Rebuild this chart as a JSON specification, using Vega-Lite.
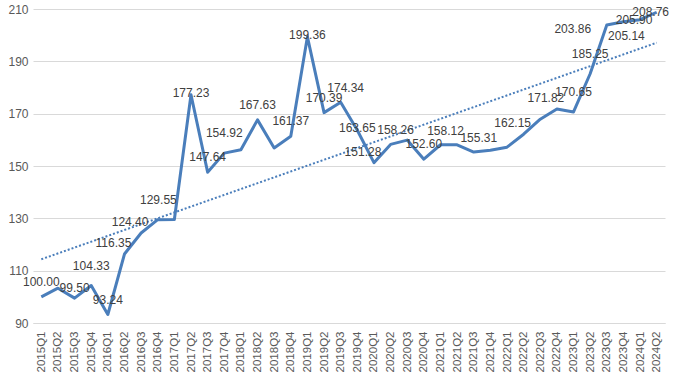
{
  "$schema": "https://vega.github.io/schema/vega-lite/v6.json",
  "width": 632,
  "height": 314,
  "autosize": "none",
  "padding": {"left": 33, "top": 9, "right": 11, "bottom": 63},
  "background": "white",
  "config": {"view": {"stroke": null}, "font": "Liberation Sans", "text": {"fontSize": 12, "color": "#404040"}},
  "datasets": {
    "d": [
      {"i": 0, "q": "2015Q1", "v": 100.00},
      {"i": 1, "q": "2015Q2", "v": 103.3},
      {"i": 2, "q": "2015Q3", "v": 99.50},
      {"i": 3, "q": "2015Q4", "v": 104.33},
      {"i": 4, "q": "2016Q1", "v": 93.24},
      {"i": 5, "q": "2016Q2", "v": 116.35},
      {"i": 6, "q": "2016Q3", "v": 124.40},
      {"i": 7, "q": "2016Q4", "v": 129.5},
      {"i": 8, "q": "2017Q1", "v": 129.55},
      {"i": 9, "q": "2017Q2", "v": 177.23},
      {"i": 10, "q": "2017Q3", "v": 147.64},
      {"i": 11, "q": "2017Q4", "v": 154.92},
      {"i": 12, "q": "2018Q1", "v": 156.2},
      {"i": 13, "q": "2018Q2", "v": 167.63},
      {"i": 14, "q": "2018Q3", "v": 156.9},
      {"i": 15, "q": "2018Q4", "v": 161.37},
      {"i": 16, "q": "2019Q1", "v": 199.36},
      {"i": 17, "q": "2019Q2", "v": 170.39},
      {"i": 18, "q": "2019Q3", "v": 174.34},
      {"i": 19, "q": "2019Q4", "v": 163.65},
      {"i": 20, "q": "2020Q1", "v": 151.28},
      {"i": 21, "q": "2020Q2", "v": 158.26},
      {"i": 22, "q": "2020Q3", "v": 159.9},
      {"i": 23, "q": "2020Q4", "v": 152.60},
      {"i": 24, "q": "2021Q1", "v": 158.12},
      {"i": 25, "q": "2021Q2", "v": 158.1},
      {"i": 26, "q": "2021Q3", "v": 155.31},
      {"i": 27, "q": "2021Q4", "v": 156.0},
      {"i": 28, "q": "2022Q1", "v": 157.2},
      {"i": 29, "q": "2022Q2", "v": 162.15},
      {"i": 30, "q": "2022Q3", "v": 167.9},
      {"i": 31, "q": "2022Q4", "v": 171.82},
      {"i": 32, "q": "2023Q1", "v": 170.65},
      {"i": 33, "q": "2023Q2", "v": 185.25},
      {"i": 34, "q": "2023Q3", "v": 203.86},
      {"i": 35, "q": "2023Q4", "v": 205.14},
      {"i": 36, "q": "2024Q1", "v": 205.90},
      {"i": 37, "q": "2024Q2", "v": 208.76}
    ]
  },
  "data": {"name": "d"},
  "encoding": {
    "x": {
      "field": "q",
      "type": "ordinal",
      "scale": {"type": "point", "padding": 0.5},
      "axis": {
        "title": null,
        "labelAngle": -90,
        "labelFontSize": 11.5,
        "labelColor": "#595959",
        "ticks": false,
        "domain": true,
        "domainColor": "#d9d9d9",
        "labelPadding": 8,
        "grid": false
      }
    },
    "y": {
      "field": "v",
      "type": "quantitative",
      "scale": {"domain": [90, 210], "nice": false, "zero": false},
      "axis": {
        "title": null,
        "values": [90, 110, 130, 150, 170, 190, 210],
        "grid": true,
        "gridColor": "#d9d9d9",
        "domain": false,
        "ticks": false,
        "labelPadding": 5,
        "labelFontSize": 12,
        "labelColor": "#595959"
      }
    }
  },
  "layer": [
    {
      "mark": {"type": "line", "color": "#4a7ebb", "strokeWidth": 3, "strokeJoin": "round"},
      "encoding": {}
    },
    {
      "transform": [
        {"regression": "v", "on": "i"},
        {"lookup": "i", "from": {"data": {"name": "d"}, "key": "i", "fields": ["q"]}}
      ],
      "mark": {"type": "line", "color": "#4a7ebb", "strokeWidth": 2, "strokeDash": [2, 2]},
      "encoding": {}
    },
    {
      "transform": [{"filter": {"field": "q", "oneOf": ["2015Q1", "2016Q1", "2017Q3", "2018Q2", "2018Q4", "2019Q2", "2020Q4"]}}],
      "mark": {"type": "text", "dy": -15},
      "encoding": {"text": {"field": "v", "type": "quantitative", "format": ".2f"}}
    },
    {
      "transform": [{"filter": {"field": "q", "oneOf": ["2015Q3"]}}],
      "mark": {"type": "text", "dy": -10},
      "encoding": {"text": {"field": "v", "type": "quantitative", "format": ".2f"}}
    },
    {
      "transform": [{"filter": {"field": "q", "oneOf": ["2015Q4", "2017Q4", "2023Q1", "2023Q2"]}}],
      "mark": {"type": "text", "dy": -20},
      "encoding": {"text": {"field": "v", "type": "quantitative", "format": ".2f"}}
    },
    {
      "transform": [{"filter": {"field": "q", "oneOf": ["2016Q2", "2016Q3", "2020Q1", "2022Q2", "2022Q4"]}}],
      "mark": {"type": "text", "dx": -11, "dy": -11},
      "encoding": {"text": {"field": "v", "type": "quantitative", "format": ".2f"}}
    },
    {
      "transform": [{"filter": {"field": "q", "oneOf": ["2017Q1"]}}],
      "mark": {"type": "text", "dx": -16, "dy": -20},
      "encoding": {"text": {"field": "v", "type": "quantitative", "format": ".2f"}}
    },
    {
      "transform": [{"filter": {"field": "q", "oneOf": ["2019Q3", "2020Q2", "2021Q1", "2021Q3"]}}],
      "mark": {"type": "text", "dx": 5, "dy": -14},
      "encoding": {"text": {"field": "v", "type": "quantitative", "format": ".2f"}}
    },
    {
      "transform": [{"filter": {"field": "q", "oneOf": ["2017Q2", "2019Q1", "2019Q4"]}}],
      "mark": {"type": "text", "dy": -2},
      "encoding": {"text": {"field": "v", "type": "quantitative", "format": ".2f"}}
    },
    {
      "transform": [{"filter": {"field": "q", "oneOf": ["2023Q3"]}}],
      "mark": {"type": "text", "dx": -34, "dy": 4},
      "encoding": {"text": {"field": "v", "type": "quantitative", "format": ".2f"}}
    },
    {
      "transform": [{"filter": {"field": "q", "oneOf": ["2023Q4"]}}],
      "mark": {"type": "text", "dx": 3, "dy": 14},
      "encoding": {"text": {"field": "v", "type": "quantitative", "format": ".2f"}}
    },
    {
      "transform": [{"filter": {"field": "q", "oneOf": ["2024Q1", "2024Q2"]}}],
      "mark": {"type": "text", "dx": -6, "dy": 0},
      "encoding": {"text": {"field": "v", "type": "quantitative", "format": ".2f"}}
    }
  ]
}
